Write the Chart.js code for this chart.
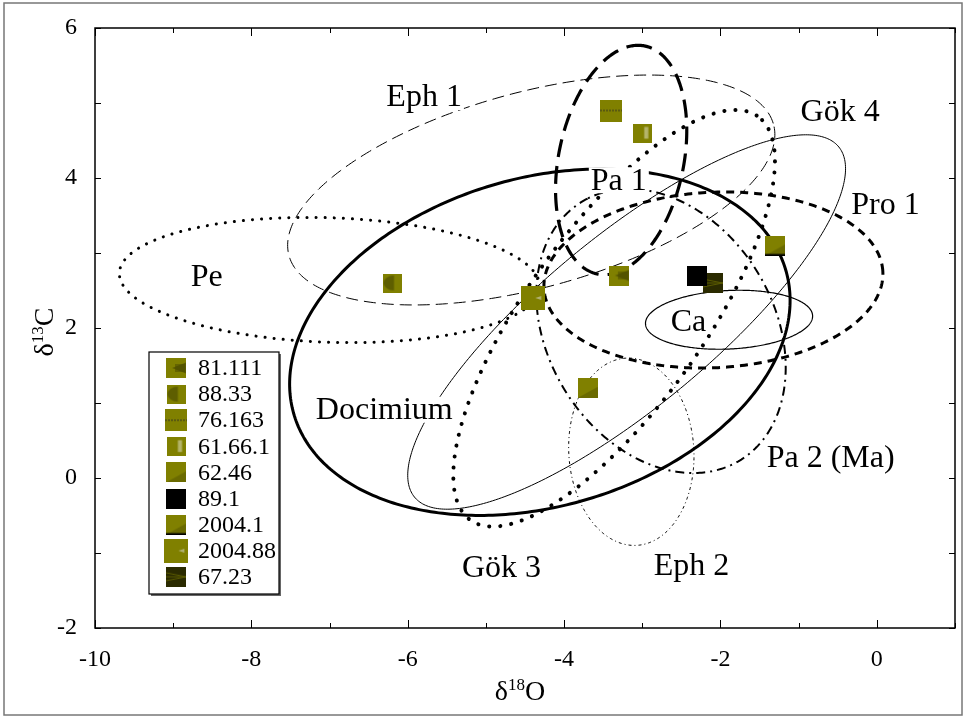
<!DOCTYPE html>
<html lang="en">
<head>
<meta charset="UTF-8" />
<title>δ13C vs δ18O</title>
<script src="https://cdn.jsdelivr.net/npm/chart.js"></script>
<style>
  html, body { margin: 0; padding: 0; background: #fff; }
</style>
</head>
<body>
<canvas id="isoChart" width="966" height="719"></canvas>
<script>
// samples (legend order)
const sampleNames = ['81.111', '88.33', '76.163', '61.66.1', '62.46', '89.1', '2004.1', '2004.88', '67.23'];
const sampleO = [-3.3, -6.2, -3.4, -3.0, -3.7, -2.3, -1.3, -4.4, -2.1];
const sampleC = [2.7, 2.6, 4.9, 4.6, 1.2, 2.7, 3.1, 2.4, 2.6];

// quarry fields: ellipse centre, semi-axes (per mil) and tilt (deg)
const fieldNames = ['Pe', 'Eph 1', 'Pa 1', 'Gök 4', 'Docimium', 'Pro 1', 'Ca', 'Pa 2 (Ma)', 'Gök 3', 'Eph 2'];
const fieldO = [-7.0, -4.42, -3.27, -3.2, -4.31, -2.09, -1.89, -2.76, -3.36, -3.14];
const fieldC = [2.64, 3.84, 4.24, 2.08, 1.81, 2.64, 2.11, 1.96, 2.13, 0.35];
const fieldMajor = [2.69, 3.22, 1.55, 3.58, 3.29, 2.17, 1.07, 2.0, 3.26, 1.25];
const fieldMinor = [0.83, 1.30, 0.80, 1.12, 2.18, 1.17, 0.39, 1.46, 1.15, 0.80];
const fieldTilt = [-2, 16, 79, 41, 18, 3, 3, 118, 56, 93];

// where each field name is written (data coords)
const fieldLabelAt = [[-8.57, 2.69], [-5.79, 5.08], [-3.30, 3.97], [-0.47, 4.88], [-6.30, 0.91],
                      [0.11, 3.65], [-2.41, 2.09], [-0.59, 0.27], [-4.80, -1.20], [-2.37, -1.17]];

const xTicks = [-10, -8, -6, -4, -2, 0];
const yTicks = [-2, 0, 2, 4, 6];

const fieldStyle = [
  { width: 3, dash: [0.1, 9], cap: 'round' },     // Pe
  { width: 1, dash: [12, 6] },                     // Eph 1
  { width: 3.2, dash: [18, 9] },                   // Pa 1
  { width: 1, dash: [] },                          // Gök 4
  { width: 3, dash: [] },                          // Docimium
  { width: 3, dash: [8, 6] },                      // Pro 1
  { width: 1.2, dash: [] },                        // Ca
  { width: 2, dash: [9, 5, 2, 5] },                // Pa 2 (Ma)
  { width: 4, dash: [0.1, 11], cap: 'round' },     // Gök 3
  { width: 1, dash: [3, 3, 1, 3] }                 // Eph 2
];

const SERIF = '"Liberation Serif", "Times New Roman", serif';
const OLIVE = '#808000';

function makeMarker(size, paint) {
  const c = document.createElement('canvas');
  c.width = c.height = size;
  const g = c.getContext('2d');
  g.fillStyle = OLIVE;
  g.fillRect(0, 0, size, size);
  paint(g, size);
  return c;
}

const markers = [
  makeMarker(20, (g, s) => { // dark wedge
    g.fillStyle = '#5c5c00';
    g.beginPath(); g.moveTo(s * 0.3, s / 2); g.lineTo(s, s * 0.22); g.lineTo(s, s * 0.78); g.closePath(); g.fill();
    g.strokeStyle = '#4a4a00'; g.lineWidth = 1;
    for (let i = 0; i < 5; i++) { g.beginPath(); g.moveTo(s * (0.5 + i * 0.1), s * 0.3); g.lineTo(s * (0.5 + i * 0.1), s * 0.7); g.stroke(); }
  }),
  makeMarker(19, (g, s) => { // dark half lens
    g.fillStyle = '#5e5e00';
    g.beginPath(); g.ellipse(s * 0.6, s / 2, s * 0.55, s * 0.4, 0, Math.PI / 2, Math.PI * 1.5); g.fill();
  }),
  makeMarker(22, (g, s) => { // dashed band
    g.fillStyle = '#5a5a10';
    for (let i = 0; i < s; i += 3) g.fillRect(i, s / 2 - 1, 2, 2);
  }),
  makeMarker(19, (g, s) => { // light bar
    g.fillStyle = '#b4b46a';
    g.fillRect(s * 0.6, s * 0.18, s * 0.22, s * 0.62);
  }),
  makeMarker(20, (g, s) => { // dark corner
    g.fillStyle = '#6a6a00';
    g.beginPath(); g.moveTo(s, s * 0.45); g.lineTo(s, s); g.lineTo(0, s); g.closePath(); g.fill();
  }),
  makeMarker(20, (g, s) => { g.fillStyle = '#000'; g.fillRect(0, 0, s, s); }),
  makeMarker(20, (g, s) => {
    g.fillStyle = '#6a6a00';
    g.beginPath(); g.moveTo(s, s * 0.45); g.lineTo(s, s); g.lineTo(0, s); g.closePath(); g.fill();
    g.fillStyle = '#000'; g.fillRect(0, s - 1.5, s, 1.5);
  }),
  makeMarker(24, (g, s) => { // large with light wedge
    g.fillStyle = '#b0b070';
    g.beginPath(); g.moveTo(s * 0.6, s / 2); g.lineTo(s * 0.85, s * 0.42); g.lineTo(s * 0.85, s * 0.58); g.closePath(); g.fill();
  }),
  makeMarker(20, (g, s) => { // dark striped
    g.fillStyle = '#2a2a00'; g.fillRect(0, 0, s, s);
    g.strokeStyle = '#5a5a00'; g.lineWidth = 1;
    [0.3, 0.5, 0.7].forEach(f => { g.beginPath(); g.moveTo(0, s * f); g.lineTo(s, s / 2); g.stroke(); });
  })
];

function drawSupText(ctx, parts, size) {
  // parts: [text, isSup]
  let w = 0;
  const big = `${size}px ${SERIF}`, small = `${Math.round(size * 0.62)}px ${SERIF}`;
  parts.forEach(([t, sup]) => { ctx.font = sup ? small : big; w += ctx.measureText(t).width; });
  let cx = -w / 2;
  ctx.textAlign = 'left';
  ctx.textBaseline = 'alphabetic';
  parts.forEach(([t, sup]) => {
    ctx.font = sup ? small : big;
    ctx.fillText(t, cx, sup ? -size * 0.36 : 0);
    cx += ctx.measureText(t).width;
  });
}

const fieldPlugin = {
  id: 'fields',
  beforeDraw(chart) {
    const { ctx } = chart;
    ctx.save();
    ctx.fillStyle = '#fff';
    ctx.fillRect(0, 0, chart.width, chart.height);
    ctx.restore();
  },
  beforeDatasetsDraw(chart) {
    const { ctx, chartArea: ca, scales: { x, y } } = chart;
    ctx.save();
    ctx.beginPath();
    ctx.rect(ca.left, ca.top, ca.width, ca.height);
    ctx.clip();
    ctx.strokeStyle = '#000';
    fieldNames.forEach((name, i) => {
      const st = fieldStyle[i];
      const th = fieldTilt[i] * Math.PI / 180;
      ctx.beginPath();
      for (let k = 0; k <= 360; k++) {
        const t = k * Math.PI / 180;
        const u = fieldMajor[i] * Math.cos(t), v = fieldMinor[i] * Math.sin(t);
        const px = x.getPixelForValue(fieldO[i] + u * Math.cos(th) - v * Math.sin(th));
        const py = y.getPixelForValue(fieldC[i] + u * Math.sin(th) + v * Math.cos(th));
        if (k) ctx.lineTo(px, py); else ctx.moveTo(px, py);
      }
      ctx.lineWidth = st.width;
      ctx.lineCap = st.cap || 'butt';
      ctx.setLineDash(st.dash);
      ctx.stroke();
    });
    ctx.setLineDash([]);
    // field names on white
    ctx.font = `32px ${SERIF}`;
    ctx.textAlign = 'center';
    ctx.textBaseline = 'middle';
    fieldNames.forEach((name, i) => {
      const px = x.getPixelForValue(fieldLabelAt[i][0]);
      const py = y.getPixelForValue(fieldLabelAt[i][1]);
      const w = ctx.measureText(name).width;
      ctx.fillStyle = '#fff';
      ctx.fillRect(px - w / 2 - 2, py - 13, w + 4, 26);
      ctx.fillStyle = '#000';
      ctx.fillText(name, px, py + 1);
    });
    ctx.restore();
  },
  afterDraw(chart) {
    const { ctx, chartArea: ca, scales: { x, y } } = chart;
    ctx.save();
    // outer figure border
    ctx.strokeStyle = '#777';
    ctx.lineWidth = 1.5;
    ctx.strokeRect(4, 3, 958, 712);
    // plot frame
    ctx.strokeStyle = '#000';
    ctx.lineWidth = 1.5;
    ctx.strokeRect(ca.left, ca.top, ca.width, ca.height);
    // inward ticks on all sides
    ctx.lineWidth = 1;
    ctx.beginPath();
    for (let v = x.min; v <= x.max; v++) {
      const px = Math.round(x.getPixelForValue(v)) + 0.5;
      const len = v % 2 === 0 ? 8 : 5;
      ctx.moveTo(px, ca.bottom); ctx.lineTo(px, ca.bottom - len);
      ctx.moveTo(px, ca.top); ctx.lineTo(px, ca.top + len);
    }
    for (let v = y.min; v <= y.max; v++) {
      const py = Math.round(y.getPixelForValue(v)) + 0.5;
      ctx.moveTo(ca.left, py); ctx.lineTo(ca.left + 6, py);
      ctx.moveTo(ca.right, py); ctx.lineTo(ca.right - 6, py);
    }
    ctx.stroke();

    // legend box
    const lx = 149, ly = 352, lw = 130, lh = 242;
    ctx.fillStyle = '#666';
    ctx.fillRect(lx + 2, ly + 2, lw, lh);
    ctx.fillStyle = '#fff';
    ctx.fillRect(lx, ly, lw, lh);
    ctx.strokeStyle = '#000';
    ctx.lineWidth = 1.2;
    ctx.strokeRect(lx, ly, lw, lh);
    ctx.font = `24px ${SERIF}`;
    ctx.textAlign = 'left';
    ctx.textBaseline = 'middle';
    ctx.fillStyle = '#000';
    chart.data.datasets.forEach((ds, i) => {
      const cy = ly + 16 + i * 26.1;
      const m = ds.pointStyle;
      ctx.drawImage(m, 176 - m.width / 2, cy - m.height / 2);
      ctx.fillText(ds.label, 198, cy + 1);
    });

    // axis titles with superscripts
    ctx.fillStyle = '#000';
    ctx.save();
    ctx.translate(520, 700);
    drawSupText(ctx, [['δ', false], ['18', true], ['O', false]], 28);
    ctx.restore();
    ctx.save();
    ctx.translate(53, 332);
    ctx.rotate(-Math.PI / 2);
    drawSupText(ctx, [['δ', false], ['13', true], ['C', false]], 28);
    ctx.restore();
    ctx.restore();
  }
};

new Chart(document.getElementById('isoChart'), {
  type: 'scatter',
  data: {
    datasets: sampleNames.map((name, i) => ({
      label: name,
      data: [{ x: sampleO[i], y: sampleC[i] }],
      pointStyle: markers[i],
      pointRadius: 10,
      pointHoverRadius: 10
    }))
  },
  options: {
    responsive: false,
    animation: false,
    devicePixelRatio: 1,
    layout: { padding: { top: 28, right: 9, left: 0, bottom: 0 } },
    plugins: { legend: { display: false }, tooltip: { enabled: false } },
    scales: {
      x: {
        type: 'linear',
        min: -10,
        max: 1,
        afterBuildTicks: (s) => { s.ticks = xTicks.map(v => ({ value: v })); },
        afterFit: (s) => { s.height = 91; },
        grid: { display: false },
        border: { display: false },
        ticks: { color: '#000', padding: 9, maxRotation: 0, font: { family: SERIF, size: 24 } }
      },
      y: {
        type: 'linear',
        min: -2,
        max: 6,
        afterBuildTicks: (s) => { s.ticks = yTicks.map(v => ({ value: v })); },
        afterFit: (s) => { s.width = 95; },
        grid: { display: false },
        border: { display: false },
        ticks: { color: '#000', padding: 10, font: { family: SERIF, size: 24 } }
      }
    }
  },
  plugins: [fieldPlugin]
});
</script>
</body>
</html>
